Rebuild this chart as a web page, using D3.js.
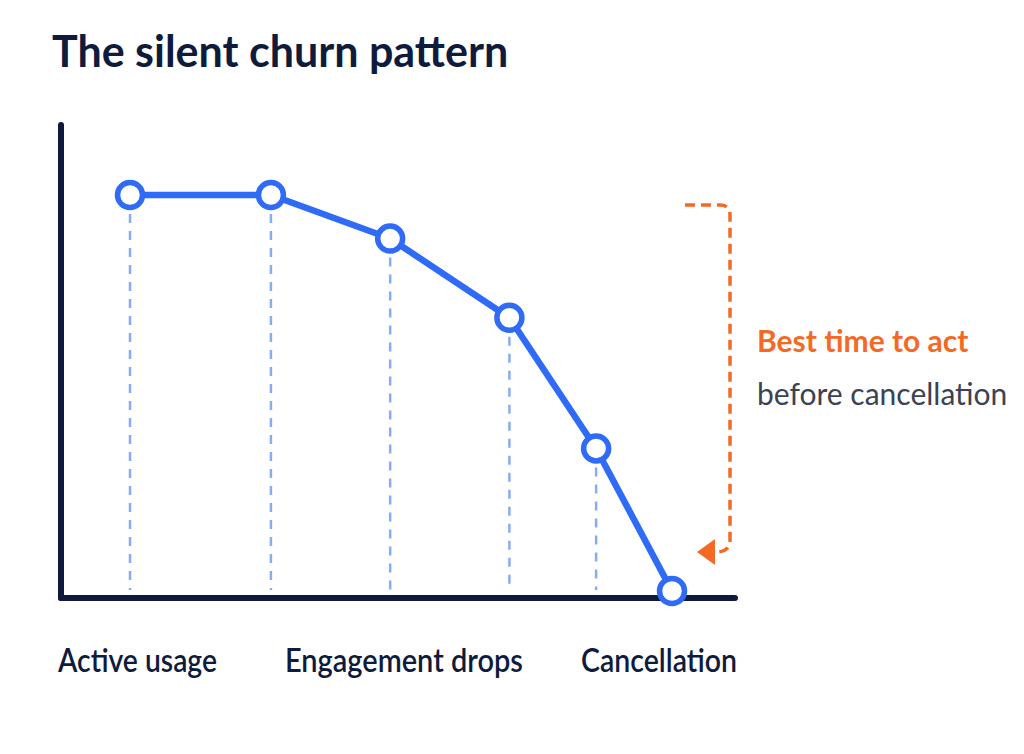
<!DOCTYPE html>
<html>
<head>
<meta charset="utf-8">
<script src="https://cdn.jsdelivr.net/npm/d3@7"></script>
<style>
  body { margin: 0; background: #fff; }
  svg { display: block; font-family: Lato, "Noto Sans", sans-serif; }
</style>
</head>
<body>
<div id="chart"></div>
<script>
// stage position along the customer timeline (0-100) and engagement level (0-100)
var stageX = [0, 26, 48, 70, 86, 100];
var engagement = [100, 100, 89, 69, 36, 0];
var stageLabels = ["Active usage", "Engagement drops", "Cancellation"];

var width = 1024, height = 754;

var svg = d3.select("#chart").append("svg")
  .attr("width", width)
  .attr("height", height);

var xScale = d3.scaleLinear()
  .domain([0, 100])
  .range([130, 672]);

var yScale = d3.scaleLinear()
  .domain([0, 100])
  .range([591, 195]);

var points = stageX.map((x, i) => ({x: x, y: engagement[i]}));

// title
svg.append("text")
  .attr("x", 52)
  .attr("y", 67)
  .attr("fill", "#0f1b3d")
  .attr("font-size", 43)
  .attr("font-weight", 700)
  .text("The silent churn pattern");

// guide lines from each point down to the baseline
svg.selectAll(".guide")
  .data(points.slice(0, -1))
  .enter().append("line")
  .attr("class", "guide")
  .attr("x1", d => xScale(d.x))
  .attr("x2", d => xScale(d.x))
  .attr("y1", d => yScale(d.y) + 19)
  .attr("y2", 590)
  .attr("stroke", "#86adf2")
  .attr("stroke-width", 2.5)
  .attr("stroke-dasharray", "9,8");

// axes (plain lines, no ticks)
svg.append("line")
  .attr("x1", 61).attr("x2", 61)
  .attr("y1", 125).attr("y2", 598)
  .attr("stroke", "#0f1b3d")
  .attr("stroke-width", 6)
  .attr("stroke-linecap", "round");

svg.append("line")
  .attr("x1", 61).attr("x2", 735)
  .attr("y1", 598).attr("y2", 598)
  .attr("stroke", "#0f1b3d")
  .attr("stroke-width", 6)
  .attr("stroke-linecap", "round");

// the line
var line = d3.line()
  .x(d => xScale(d.x))
  .y(d => yScale(d.y));

svg.append("path")
  .datum(points)
  .attr("d", line)
  .attr("fill", "none")
  .attr("stroke", "#2f6bf6")
  .attr("stroke-width", 6.5)
  .attr("stroke-linejoin", "round");

svg.selectAll(".dot")
  .data(points)
  .enter().append("circle")
  .attr("class", "dot")
  .attr("cx", d => xScale(d.x))
  .attr("cy", d => yScale(d.y))
  .attr("r", 12.5)
  .attr("fill", "#fff")
  .attr("stroke", "#2f6bf6")
  .attr("stroke-width", 5.5);

// stage labels (condensed, like the original)
var labelX = [58, 285, 581];
var labelW = [159, 238, 156];
svg.selectAll(".stage")
  .data(stageLabels)
  .enter().append("text")
  .attr("class", "stage")
  .attr("x", (d, i) => labelX[i])
  .attr("y", 672)
  .attr("textLength", (d, i) => labelW[i])
  .attr("lengthAdjust", "spacingAndGlyphs")
  .attr("fill", "#0f1b3d")
  .attr("font-size", 32)
  .attr("font-weight", 600)
  .text(d => d);

// annotation bracket
var orange = "#f46a25";
var bx = 730, bTop = 205, bBottom = 552;
svg.append("path")
  .attr("d", "M685," + bTop + " H" + (bx - 10) + " Q" + bx + "," + bTop + " " + bx + "," + (bTop + 10) +
             " V" + (bBottom - 12) + " Q" + bx + "," + bBottom + " " + (bx - 14) + "," + bBottom)
  .attr("fill", "none")
  .attr("stroke", orange)
  .attr("stroke-width", 3.5)
  .attr("stroke-dasharray", "10,6");

svg.append("path")
  .attr("d", "M697," + bBottom + " L715," + (bBottom - 13) + " L715," + (bBottom + 13) + " Z")
  .attr("fill", orange);

svg.append("text")
  .attr("x", 757)
  .attr("y", 352)
  .attr("fill", orange)
  .attr("font-size", 30)
  .attr("font-weight", 700)
  .text("Best time to act");

svg.append("text")
  .attr("x", 757)
  .attr("y", 405)
  .attr("fill", "#3b4252")
  .attr("font-size", 30)
  .text("before cancellation");
</script>
</body>
</html>
